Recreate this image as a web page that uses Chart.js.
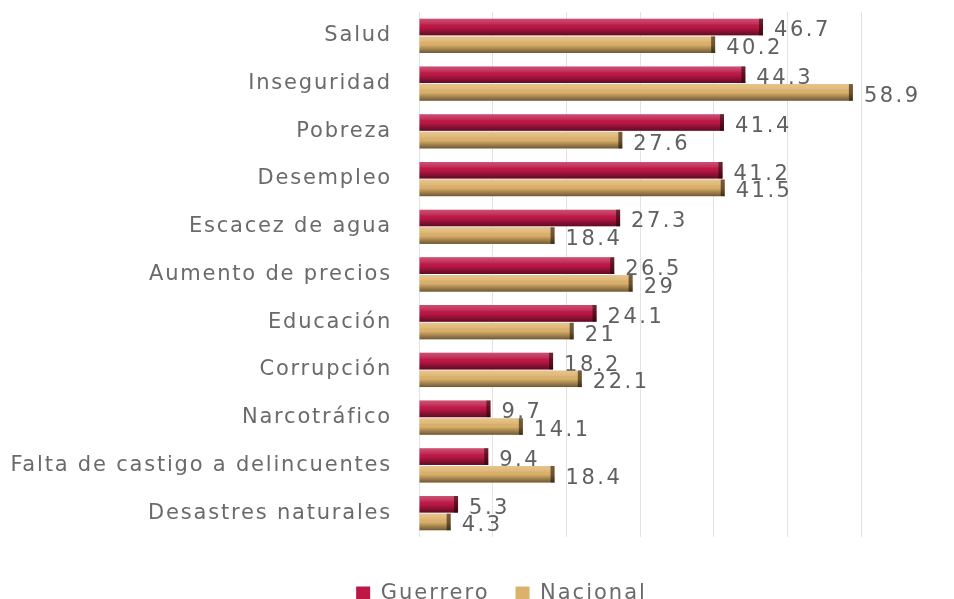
<!DOCTYPE html>
<html>
<head>
<meta charset="utf-8">
<script src="https://cdn.jsdelivr.net/npm/chart.js@4"></script>
<style>
  html, body { margin: 0; padding: 0; background: #ffffff; }
  #wrap { width: 954px; height: 599px; }
</style>
</head>
<body>
<div id="wrap"><canvas id="chart" width="954" height="599"></canvas></div>
<script>
// data
const categories = ['Salud', 'Inseguridad', 'Pobreza', 'Desempleo', 'Escacez de agua',
  'Aumento de precios', 'Educación', 'Corrupción', 'Narcotráfico',
  'Falta de castigo a delincuentes', 'Desastres naturales'];
const guerrero = [46.7, 44.3, 41.4, 41.2, 27.3, 26.5, 24.1, 18.2, 9.7, 9.4, 5.3];
const nacional = [40.2, 58.9, 27.6, 41.5, 18.4, 29, 21, 22.1, 14.1, 18.4, 4.3];
const seriesNames = ['Guerrero', 'Nacional'];

const FONT = 'DejaVu Sans';
const TEXT_GRAY = '#6a6a6a';

// gloss on the bars, value labels and category labels (wide, spaced text)
const barLook = {
  id: 'barLook',
  beforeLayout(chart) {
    // legend text is spaced out like the rest of the picture
    chart.ctx.letterSpacing = '2px';
  },
  afterLayout(chart) {
    const lg = chart.legend;
    lg.left += 71; lg.right += 71;
  },
  beforeDraw(chart) {
    chart.ctx.letterSpacing = '2px';
  },
  afterDatasetsDraw(chart) {
    const ctx = chart.ctx;
    chart.data.datasets.forEach((ds, di) => {
      const meta = chart.getDatasetMeta(di);
      meta.data.forEach((bar, i) => {
        const p = bar.getProps(['x', 'y', 'base', 'height'], true);
        const top = p.y - p.height / 2;
        const g = ctx.createLinearGradient(0, top, 0, top + p.height);
        g.addColorStop(0, 'rgba(255,255,255,0.25)');
        g.addColorStop(0.3, 'rgba(255,255,255,0.1)');
        g.addColorStop(0.5, 'rgba(0,0,0,0)');
        g.addColorStop(1, 'rgba(0,0,0,0.5)');
        ctx.save();
        ctx.fillStyle = g;
        ctx.fillRect(p.base, top, p.x - p.base, p.height);
        ctx.fillStyle = 'rgba(20,10,0,0.55)';
        ctx.fillRect(p.x - 4, top, 4, p.height);
        ctx.restore();

        ctx.save();
        ctx.font = '21px "' + FONT + '"';
        ctx.letterSpacing = '2.5px';
        ctx.fillStyle = '#606060';
        ctx.textAlign = 'left';
        ctx.textBaseline = 'middle';
        ctx.fillText(String(ds.data[i]), p.x + 11, p.y + 4);
        ctx.restore();
      });
    });

    const ys = chart.scales.y;
    ctx.save();
    ctx.font = '21px "' + FONT + '"';
    ctx.letterSpacing = '1.8px';
    ctx.fillStyle = TEXT_GRAY;
    ctx.textAlign = 'right';
    ctx.textBaseline = 'middle';
    categories.forEach((c, i) => {
      ctx.fillText(c, 392, ys.getPixelForValue(i));
    });
    ctx.restore();
  }
};

new Chart(document.getElementById('chart'), {
  type: 'bar',
  data: {
    labels: categories,
    datasets: [
      { label: seriesNames[0], data: guerrero, backgroundColor: '#bd1746' },
      { label: seriesNames[1], data: nacional, backgroundColor: '#dcb16a' }
    ]
  },
  options: {
    indexAxis: 'y',
    responsive: false,
    animation: false,
    devicePixelRatio: 1,
    categoryPercentage: 0.74,
    barPercentage: 0.94,
    layout: { padding: { left: 0, right: 93, top: 12, bottom: -15 } },
    scales: {
      x: {
        min: 0,
        max: 60,
        ticks: { display: false, stepSize: 10 },
        grid: { color: '#e3e3e3', lineWidth: 1, drawTicks: false },
        border: { display: false },
        afterFit(scale) { scale.height = 20; }
      },
      y: {
        ticks: { display: false },
        grid: { display: false, drawTicks: false },
        border: { display: false },
        afterFit(scale) { scale.width = 419; }
      }
    },
    plugins: {
      legend: {
        position: 'bottom',
        labels: {
          color: TEXT_GRAY,
          font: { family: FONT, size: 21 },
          boxWidth: 14,
          boxHeight: 14,
          padding: 26
        }
      },
      tooltip: { enabled: false }
    }
  },
  plugins: [barLook]
});
</script>
</body>
</html>
